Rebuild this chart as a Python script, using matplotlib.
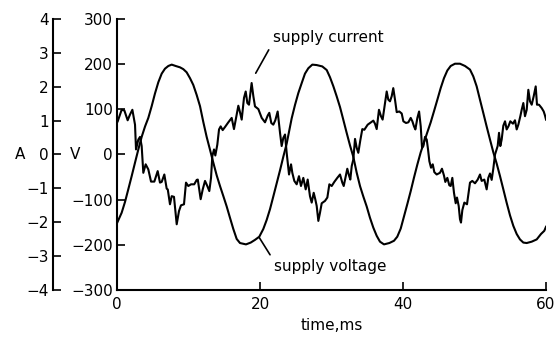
import matplotlib.pyplot as plt

# supply voltage (time in ms, volts)
voltage_t = [0.0, 0.65, 1.12, 1.58, 2.05, 2.52, 2.98, 3.45, 3.92, 4.38, 4.85, 5.31, 5.78,
             6.25, 6.71, 7.18, 7.65, 8.20, 8.81, 9.27, 9.74, 10.21, 10.67, 11.14, 11.61,
             12.07, 12.54, 13.00, 13.47, 13.94, 14.41, 14.87, 15.34, 15.80, 16.27, 16.74,
             17.20, 18.04, 18.70, 19.30, 19.90, 20.46, 20.93, 21.40, 21.86, 22.33, 22.80,
             23.26, 23.73, 24.43, 24.90, 25.36, 25.83, 26.29, 26.76, 27.32, 27.93, 28.71,
             29.33, 29.79, 30.26, 30.72, 31.19, 31.65, 32.12, 32.59, 33.05, 33.52, 33.99,
             34.45, 34.92, 35.38, 35.85, 36.32, 36.78, 37.34, 38.09, 38.74, 39.20, 39.68,
             40.14, 40.60, 41.08, 41.54, 42.01, 42.48, 42.94, 43.40, 43.87, 44.34, 44.80,
             45.27, 45.73, 46.20, 46.67, 47.27, 47.97, 48.67, 49.37, 49.83, 50.30, 50.77,
             51.23, 51.70, 52.17, 52.63, 53.10, 53.57, 54.03, 54.50, 54.97, 55.43, 55.90,
             56.36, 56.83, 57.30, 58.00, 58.70, 59.30, 59.76, 60.00]
voltage_v = [-152, -129, -105, -77, -48, -18, 11, 39, 62, 81, 107, 135, 160,
             179, 190, 196, 199, 196, 193, 189, 182, 169, 154, 132, 107,
             72, 39, 11, -18, -46, -70, -92, -115, -140, -165, -187,
             -196, -199, -195, -189, -182, -165, -145, -121, -93, -64, -35,
             -5, 24, 80, 110, 136, 158, 179, 191, 199, 198, 195,
             187, 171, 151, 129, 105, 77, 48, 20, -5, -40, -70,
             -93, -115, -140, -162, -180, -193, -199, -196, -191, -182, -164,
             -137, -110, -81, -51, -22, 5, 27, 49, 71, 96, 121,
             147, 169, 186, 196, 201, 201, 196, 188, 173, 151, 121,
             92, 62, 33, 5, -20, -48, -77, -107, -135, -158, -176,
             -188, -195, -196, -193, -188, -176, -169, -160]

# supply current (time in ms, amps)
current_t = [0.10, 0.65, 1.03, 1.49, 1.82, 2.15, 2.52, 2.66, 2.98, 3.22, 3.45, 3.68, 4.01,
             4.38, 4.76, 5.22, 5.69, 6.01, 6.25, 6.62, 6.95, 7.10, 7.41, 7.65, 7.97, 8.35,
             8.67, 8.95, 9.37, 9.65, 9.97, 10.35, 10.80, 11.15, 11.30, 11.70, 11.99, 12.31,
             12.63, 12.91, 13.15, 13.33, 13.57, 13.75, 14.03, 14.27, 14.50, 14.78, 15.10,
             15.57, 16.04, 16.36, 16.74, 16.97, 17.20, 17.44, 17.76, 18.00, 18.23, 18.46,
             18.83, 19.07, 19.30, 19.77, 20.24, 20.70, 21.08, 21.30, 21.58, 21.86, 22.14,
             22.47, 22.80, 23.03, 23.26, 23.50, 23.73, 24.06, 24.34, 24.52, 24.80, 25.13,
             25.45, 25.73, 26.06, 26.39, 26.67, 26.99, 27.23, 27.51, 27.73, 27.93, 28.16,
             28.39, 28.63, 29.09, 29.42, 29.70, 30.03, 30.39, 30.81, 31.19, 31.51, 31.71,
             31.99, 32.21, 32.45, 32.63, 32.83, 33.05, 33.29, 33.52, 33.75, 34.03, 34.31,
             34.59, 35.06, 35.52, 35.85, 36.08, 36.32, 36.64, 36.92, 37.15, 37.48, 37.72,
             37.94, 38.18, 38.42, 38.64, 38.88, 39.12, 39.48, 39.82, 40.05, 40.42, 40.75,
             41.08, 41.31, 41.54, 41.73, 42.01, 42.25, 42.48, 42.66, 42.85, 43.08, 43.32,
             43.50, 43.69, 43.92, 44.16, 44.38, 44.71, 45.17, 45.45, 45.73, 45.92, 46.20,
             46.48, 46.67, 46.90, 47.13, 47.37, 47.55, 47.79, 47.97, 48.11, 48.30, 48.58,
             48.95, 49.37, 49.69, 50.07, 50.45, 50.77, 51.00, 51.37, 51.70, 51.93, 52.17,
             52.40, 52.63, 52.87, 53.10, 53.24, 53.43, 53.61, 53.80, 54.03, 54.27, 54.50,
             54.74, 55.01, 55.38, 55.66, 55.90, 56.13, 56.41, 56.60, 56.83, 57.06, 57.30,
             57.53, 57.76, 58.00, 58.28, 58.56, 58.74, 59.02, 59.40, 59.68, 59.86, 60.00]
current_a = [0.98, 1.32, 1.30, 1.01, 1.18, 1.32, 0.88, 0.15, 0.44, 0.52, 0.25, -0.54, -0.29,
             -0.44, -0.80, -0.80, -0.49, -0.83, -0.81, -0.59, -1.01, -1.03, -1.47, -1.23, -1.25, -2.06,
             -1.67, -1.50, -1.47, -0.83, -0.93, -0.88, -0.88, -0.75, -0.74, -1.32, -1.03, -0.78,
             -0.93, -1.08, -0.69, -0.05, 0.15, -0.03, 0.29, 0.74, 0.83, 0.72, 0.81,
             0.95, 1.08, 0.75, 1.18, 1.44, 1.25, 1.03, 1.67, 1.86, 1.52, 1.47,
             2.11, 1.72, 1.42, 1.34, 1.08, 0.95, 1.15, 1.23, 0.93, 0.88, 1.01,
             1.27, 0.64, 0.25, 0.49, 0.59, 0.05, -0.59, -0.29, -0.54, -0.78, -0.88,
             -0.64, -0.93, -0.69, -1.03, -0.74, -1.23, -1.42, -1.13, -1.32, -1.52, -1.96,
             -1.72, -1.44, -1.37, -1.27, -0.88, -0.93, -0.81, -0.69, -0.59, -0.83, -0.93,
             -0.64, -0.42, -0.62, -0.74, -0.34, -0.15, 0.46, 0.20, 0.05, 0.42, 0.75,
             0.73, 0.88, 0.95, 1.00, 0.91, 0.75, 1.32, 1.13, 1.03, 1.52, 1.86,
             1.62, 1.57, 1.72, 1.96, 1.62, 1.25, 1.27, 1.21, 0.98, 0.93, 0.95,
             1.08, 0.98, 0.83, 0.74, 1.08, 1.27, 0.83, 0.20, 0.25, 0.52, 0.44,
             0.15, -0.20, -0.39, -0.29, -0.52, -0.59, -0.54, -0.42, -0.62, -0.81, -0.69,
             -0.91, -0.93, -0.69, -1.13, -1.44, -1.27, -1.52, -1.91, -2.01, -1.64, -1.42,
             -1.47, -0.83, -0.78, -0.85, -0.74, -0.59, -0.78, -0.74, -1.03, -0.69, -0.56,
             -0.75, -0.42, 0.00, 0.15, 0.25, 0.64, 0.25, 0.44, 0.85, 0.98, 0.74,
             0.83, 0.98, 0.91, 1.01, 0.74, 0.88, 1.13, 1.32, 1.52, 1.13, 1.32,
             1.91, 1.57, 1.47, 1.72, 2.01, 1.47, 1.47, 1.37, 1.27, 1.15, 1.03]

x_ticks = [0, 20, 40, 60]
v_ticks = [-300, -200, -100, 0, 100, 200, 300]
a_ticks = [-4, -3, -2, -1, 0, 1, 2, 3, 4]

plt.rcParams['font.family'] = ['DejaVu Sans']
plt.rcParams['font.size'] = 11

fig = plt.figure(figsize=(5.56, 3.40), dpi=100)
ax = fig.add_axes([117 / 556, 1 - 290 / 340, 429 / 556, 271 / 340])

ax.plot(voltage_t, voltage_v, color='black', linewidth=1.5)
ax.set_xlim(0, 60)
ax.set_ylim(-300, 300)
ax.set_xticks(x_ticks)
ax.set_yticks(v_ticks)
ax.spines['top'].set_visible(False)
ax.spines['right'].set_visible(False)
for s in ['left', 'bottom']:
    ax.spines[s].set_linewidth(1.5)
ax.tick_params(direction='in', length=6, width=1.2, pad=3)
ax.tick_params(axis='x', pad=5)
ax.set_xlabel('time,ms', labelpad=4)
ax.set_ylabel('V', rotation=0, va='center', ha='center')
ax.yaxis.set_label_coords(-0.098, 0.5)

# current on its own scale, spine moved out to the left
ax_i = ax.twinx()
ax_i.plot(current_t, current_a, color='black', linewidth=1.5)
ax_i.set_ylim(-4, 4)
ax_i.set_yticks(a_ticks)
ax_i.yaxis.tick_left()
ax_i.yaxis.set_label_position('left')
for s in ['top', 'right', 'bottom']:
    ax_i.spines[s].set_visible(False)
ax_i.spines['left'].set_visible(True)
ax_i.spines['left'].set_position(('outward', 64 * 72 / 100))
ax_i.spines['left'].set_linewidth(1.5)
ax_i.tick_params(direction='in', length=6, width=1.2, pad=3)
ax_i.set_ylabel('A', rotation=0, va='center', ha='center')
ax_i.yaxis.set_label_coords(-0.226, 0.5)

ax.annotate('supply current', xy=(19.4, 180), xytext=(21.8, 258),
            ha='left', va='center',
            arrowprops=dict(arrowstyle='-', color='black', lw=1.2,
                            relpos=(0, 0.2), shrinkA=2, shrinkB=0))
ax.annotate('supply voltage', xy=(19.9, -184), xytext=(22.0, -247),
            ha='left', va='center',
            arrowprops=dict(arrowstyle='-', color='black', lw=1.2,
                            relpos=(0, 0.8), shrinkA=2, shrinkB=0))

fig.savefig('out.png', dpi=100)
